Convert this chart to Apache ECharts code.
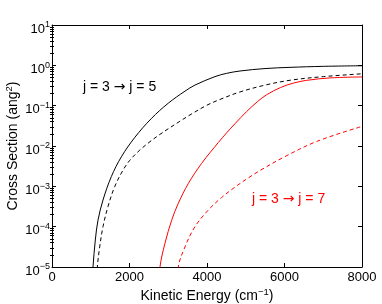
<!DOCTYPE html>
<html><head><meta charset="utf-8">
<script src="https://cdn.jsdelivr.net/npm/echarts@6/dist/echarts.min.js"></script>
<style>html,body{margin:0;padding:0;background:#fff}#c{width:382px;height:304px}</style>
</head><body><div id="c"></div>
<script>
// ---- data ----
const xTickValues = [0, 2000, 4000, 6000, 8000];
const yTickValues = [1e-5, 1e-4, 1e-3, 1e-2, 1e-1, 1e0, 1e1];

// j = 3 -> j = 5 (black, solid)
const energyJ5a = [1040, 1058, 1118, 1187, 1316, 1531, 1789, 2134, 2563, 3000, 3432, 3690, 4206, 4500, 4852, 5497, 6142, 7000, 8000];
const sigmaJ5a  = [4.0e-6, 1.0e-5, 4.68e-5, 1.45e-4, 4.57e-4, 1.74e-3, 5.37e-3, 0.0162, 0.0479, 0.115, 0.229, 0.324, 0.525, 0.631, 0.724, 0.832, 0.891, 0.944, 0.977];
// j = 3 -> j = 5 (black, dashed)
const energyJ5b = [1150, 1170, 1231, 1316, 1445, 1617, 1832, 2000, 2250, 2529, 2787, 3000, 3300, 3600, 4000, 4335, 4852, 5500, 6142, 7000, 8000];
const sigmaJ5b  = [4.0e-6, 1.0e-5, 3.16e-5, 1.0e-4, 3.16e-4, 9.77e-4, 2.51e-3, 4.32e-3, 7.67e-3, 0.01282, 0.01945, 0.02673, 0.0410, 0.0621, 0.103, 0.1426, 0.2188, 0.3236, 0.4266, 0.5248, 0.6166];
// j = 3 -> j = 7 (red, solid)
const energyJ7a = [2770, 2787, 2916, 3089, 3260, 3518, 3862, 4292, 4508, 4723, 5024, 5300, 5540, 5900, 6228, 6572, 7174, 8000];
const sigmaJ7a  = [4.0e-6, 1.0e-5, 3.89e-5, 1.45e-4, 3.80e-4, 1.175e-3, 3.715e-3, 0.01219, 0.02128, 0.0358, 0.0716, 0.1253, 0.1866, 0.2825, 0.3622, 0.4246, 0.4875, 0.5164];
// j = 3 -> j = 7 (red, dashed)
const energyJ7b = [3240, 3260, 3432, 3690, 4034, 4378, 4723, 5110, 5368, 5970, 6831, 8000];
const sigmaJ7b  = [4.0e-6, 1.0e-5, 3.16e-5, 1.0e-4, 2.588e-4, 5.284e-4, 9.594e-4, 1.726e-3, 2.466e-3, 5.212e-3, 0.01297, 0.03069];

const labelJ5 = ['j = 3 ', '\u2192', ' j = 5'];
const labelJ7 = ['j = 3 ', '\u2192', ' j = 7'];

// ---- chart ----
const font = '"Liberation Sans", Arial, Helvetica, sans-serif';
const pairs = (xs, ys) => xs.map((x, i) => [x, ys[i]]);
const minorTicks = [];
for (let e = -5; e < 1; e++) for (let m = 2; m <= 9; m++) minorTicks.push(Number((m * Math.pow(10, e)).toPrecision(3)));

const tickRich = {
  b: {fontSize: 13, fontFamily: font, color: '#000'},
  sup: {fontSize: 9, fontFamily: font, color: '#000', padding: [0, 0, 8, 0]}
};
const nameRich = {
  b: {fontSize: 14, fontFamily: font, color: '#000'},
  sup: {fontSize: 9.5, fontFamily: font, color: '#000', padding: [0, 0, 8, 0]}
};
const expText = v => {
  const e = Math.round(Math.log10(v));
  return '{b|10}{sup|' + (e < 0 ? '\u2212' + (-e) : e) + '}';
};
const annot = (parts, color) => ({
  text: '{t|' + parts[0] + '}{a|' + parts[1] + '}{t|' + parts[2] + '}',
  rich: {
    t: {fontSize: 14, fontFamily: font, fill: color},
    a: {fontSize: 14, fontFamily: '"DejaVu Sans", sans-serif', fill: color}
  }
});
const lineBase = {type: 'line', showSymbol: false, symbol: 'none', smooth: 0.35, clip: true, silent: true};

const yCommon = {type: 'log', logBase: 10, min: 1e-5, max: 10, splitLine: {show: false}, minorSplitLine: {show: false}};
const chart = echarts.init(document.getElementById('c'), null, {renderer: 'canvas'});
chart.setOption({
  animation: false,
  backgroundColor: '#fff',
  grid: {left: 52, right: 20, top: 25, bottom: 37, containLabel: false, outerBoundsMode: 'none'},
  xAxis: [
    {type: 'value', min: 0, max: 8000, interval: 2000, position: 'bottom',
     axisLine: {show: true, onZero: false, lineStyle: {color: '#000', width: 1}},
     axisTick: {show: true, inside: true, length: 4, lineStyle: {color: '#000'}, customValues: xTickValues},
     axisLabel: {color: '#000', fontSize: 13, fontFamily: font, margin: 4, customValues: xTickValues,
                 formatter: v => String(v), showMinLabel: true, showMaxLabel: true},
     splitLine: {show: false},
     name: '{b|Kinetic Energy (cm}{sup|\u22121}{b|)}', nameLocation: 'middle', nameGap: 20, nameMoveOverlap: false,
     nameTextStyle: {rich: nameRich}},
    {type: 'value', min: 0, max: 8000, interval: 2000, position: 'top',
     axisLine: {show: true, onZero: false, lineStyle: {color: '#000', width: 1}},
     axisTick: {show: true, inside: true, length: 4, lineStyle: {color: '#000'}, customValues: xTickValues},
     axisLabel: {show: false}, splitLine: {show: false}}
  ],
  yAxis: [
    Object.assign({}, yCommon, {position: 'left',
     axisLine: {show: true, onZero: false, lineStyle: {color: '#000', width: 1}},
     axisTick: {show: true, inside: true, length: 4, lineStyle: {color: '#000'}, customValues: yTickValues},
     axisLabel: {margin: 2, formatter: expText, rich: tickRich, customValues: yTickValues, padding: [8, 0, 0, 0]},
     name: '{b|Cross Section (ang}{sup|2}{b|)}', nameLocation: 'middle', nameGap: 30, nameMoveOverlap: false,
     nameTextStyle: {rich: nameRich}}),
    Object.assign({}, yCommon, {position: 'right',
     axisLine: {show: true, onZero: false, lineStyle: {color: '#000', width: 1}},
     axisTick: {show: true, inside: true, length: 4, lineStyle: {color: '#000'}, customValues: yTickValues},
     axisLabel: {show: false}}),
    Object.assign({}, yCommon, {position: 'left', offset: 0,
     axisLine: {show: false},
     axisTick: {show: true, inside: true, length: 2, lineStyle: {color: '#000', width: 1}, customValues: minorTicks},
     axisLabel: {show: false}}),
    Object.assign({}, yCommon, {position: 'right', offset: 0,
     axisLine: {show: false},
     axisTick: {show: true, inside: true, length: 2, lineStyle: {color: '#000', width: 1}, customValues: minorTicks},
     axisLabel: {show: false}})
  ],
  series: [
    Object.assign({}, lineBase, {data: pairs(energyJ5a, sigmaJ5a), lineStyle: {color: '#000', width: 1}}),
    Object.assign({}, lineBase, {data: pairs(energyJ5b, sigmaJ5b), lineStyle: {color: '#000', width: 1, type: [4, 3]}}),
    Object.assign({}, lineBase, {data: pairs(energyJ7a, sigmaJ7a), lineStyle: {color: '#ff0000', width: 1}}),
    Object.assign({}, lineBase, {data: pairs(energyJ7b, sigmaJ7b), lineStyle: {color: '#ff0000', width: 1, type: [4, 3]}})
  ],
  graphic: [
    {type: 'text', left: 83, top: 80, style: annot(labelJ5, '#000')},
    {type: 'text', left: 252, top: 192, style: annot(labelJ7, '#ff0000')}
  ]
});
</script>
</body></html>
